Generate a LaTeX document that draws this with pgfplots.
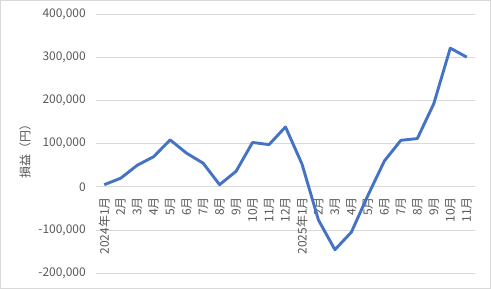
\documentclass[border=0pt]{standalone}
\usepackage{fontspec}
\setmainfont{Noto Sans CJK JP}
\usepackage{pgfplots}
\pgfplotsset{compat=1.18}
\definecolor{exblue}{HTML}{4472C4}
\definecolor{gridc}{HTML}{D9D9D9}
\definecolor{txt}{HTML}{595959}
\begin{document}
\begin{tikzpicture}[x=1pt,y=1pt]
\useasboundingbox (0,0) rectangle (491,289);
\draw[gridc, line width=0.8pt] (0.5,0.5) rectangle (490.5,288.5);
\begin{axis}[
  at={(96pt,16pt)}, anchor=south west,
  scale only axis, width=379pt, height=258.5pt,
  xmin=-0.5, xmax=22.5, ymin=-200000, ymax=400000,
  scaled y ticks=false,
  axis x line*=middle, axis y line*=left,
  axis line style={draw=none},
  tick style={draw=none},
  ymajorgrids, grid style={gridc, line width=0.8pt},
  ytick={-200000,-100000,0,100000,200000,300000,400000},
  yticklabels={{-200,000},{-100,000},{0},{100,000},{200,000},{300,000},{400,000}},
  xtick={0,...,22},
  xticklabels={2024年1月,2月,3月,4月,5月,6月,7月,8月,9月,10月,11月,12月,2025年1月,2月,3月,4月,5月,6月,7月,8月,9月,10月,11月},
  ticklabel style={font=\fontsize{12}{14}\selectfont, text=txt},
  xticklabel style={rotate=90, anchor=east, inner sep=0pt},
  xticklabel shift=10pt,
  yticklabel style={anchor=east, inner sep=0pt},
  yticklabel shift=10pt,
  ylabel={損益（円）},
  ylabel style={at={(axis description cs:-0.1873,0.4816)}, anchor=center, font=\fontsize{12}{14}\selectfont, text=txt},
]
\addplot[exblue, line width=2.9pt, line join=round] coordinates {
(0,5000) (1,20000) (2,50000) (3,70000) (4,109000) (5,78000) (6,55000) (7,5000) (8,36000) (9,103000) (10,98000) (11,139000)
(12,53000) (13,-77000) (14,-146000) (15,-105000) (16,-20000) (17,60000) (18,108000) (19,112000) (20,193000) (21,322000) (22,301000)
};
\end{axis}
\end{tikzpicture}
\end{document}
